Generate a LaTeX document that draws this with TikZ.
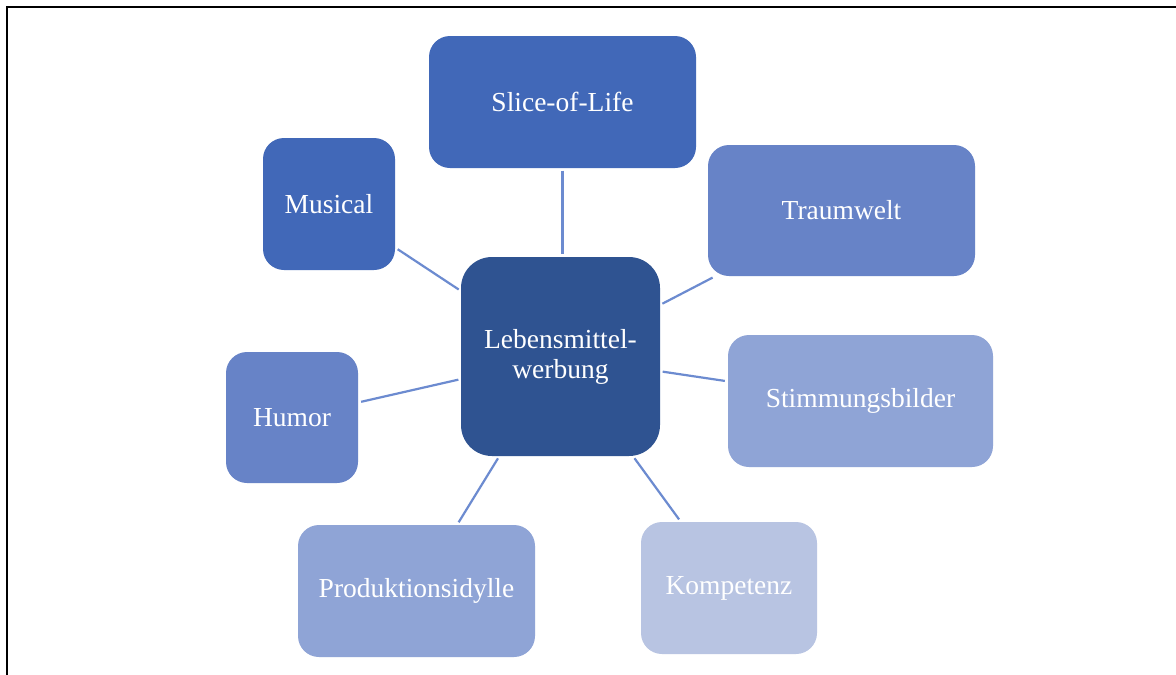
\documentclass[tikz,border=0pt]{standalone}
\usepackage{fontspec}
\setmainfont{Liberation Serif}
\begin{document}
\begin{tikzpicture}[x=1pt,y=1pt,
  every node/.style={font=\fontsize{27.5}{30}\selectfont, text=white, align=center, inner sep=0pt},
  topic/.style={rounded corners=#1, minimum width=132pt, minimum height=132pt},
  topic/.default=21pt,
  link/.style={draw=linkblue, line width=2.2pt, shorten <=2.5pt, shorten >=3pt}]
\definecolor{navy}{HTML}{2F5391}
\definecolor{blueA}{HTML}{4168B8}
\definecolor{blueB}{HTML}{6783C7}
\definecolor{blueC}{HTML}{8FA4D6}
\definecolor{blueD}{HTML}{B8C4E2}
\definecolor{linkblue}{HTML}{6C8BD0}
\useasboundingbox (0,0) rectangle (1176,-675);
\fill[white] (0,0) rectangle (1176,-675);
% frame edges
\draw[line width=1.8pt] (1176,-7) -- (7,-7) -- (7,-676);
% hub
\node[topic=31pt, fill=navy, minimum width=199pt, minimum height=199pt] (hub) at (560.5,-356.5) {Lebensmittel-\\werbung};
% satellites
\node[topic, fill=blueA, minimum width=267pt] (slice) at (562.5,-102) {Slice-of-Life};
\node[topic, fill=blueA] (musical) at (329,-204) {Musical};
\node[topic, fill=blueB, minimum width=267pt, minimum height=131pt] (traum) at (841.5,-210.5) {Traumwelt};
\node[topic, fill=blueC, minimum width=265pt] (stimm) at (860.5,-401) {Stimmungsbilder};
\node[topic, fill=blueD, minimum width=176pt] (komp) at (729,-588) {Kompetenz};
\node[topic, fill=blueC, minimum width=237pt] (prod) at (416.5,-591) {Produktionsidylle};
\node[topic, fill=blueB, minimum height=131pt] (humor) at (292,-417.5) {Humor};
% spokes
\draw[link] (slice.south) -- (slice.south |- hub.north);
\foreach \s in {musical,traum,stimm,komp,prod,humor}
  \draw[link] (hub) -- (\s);
\end{tikzpicture}
\end{document}
